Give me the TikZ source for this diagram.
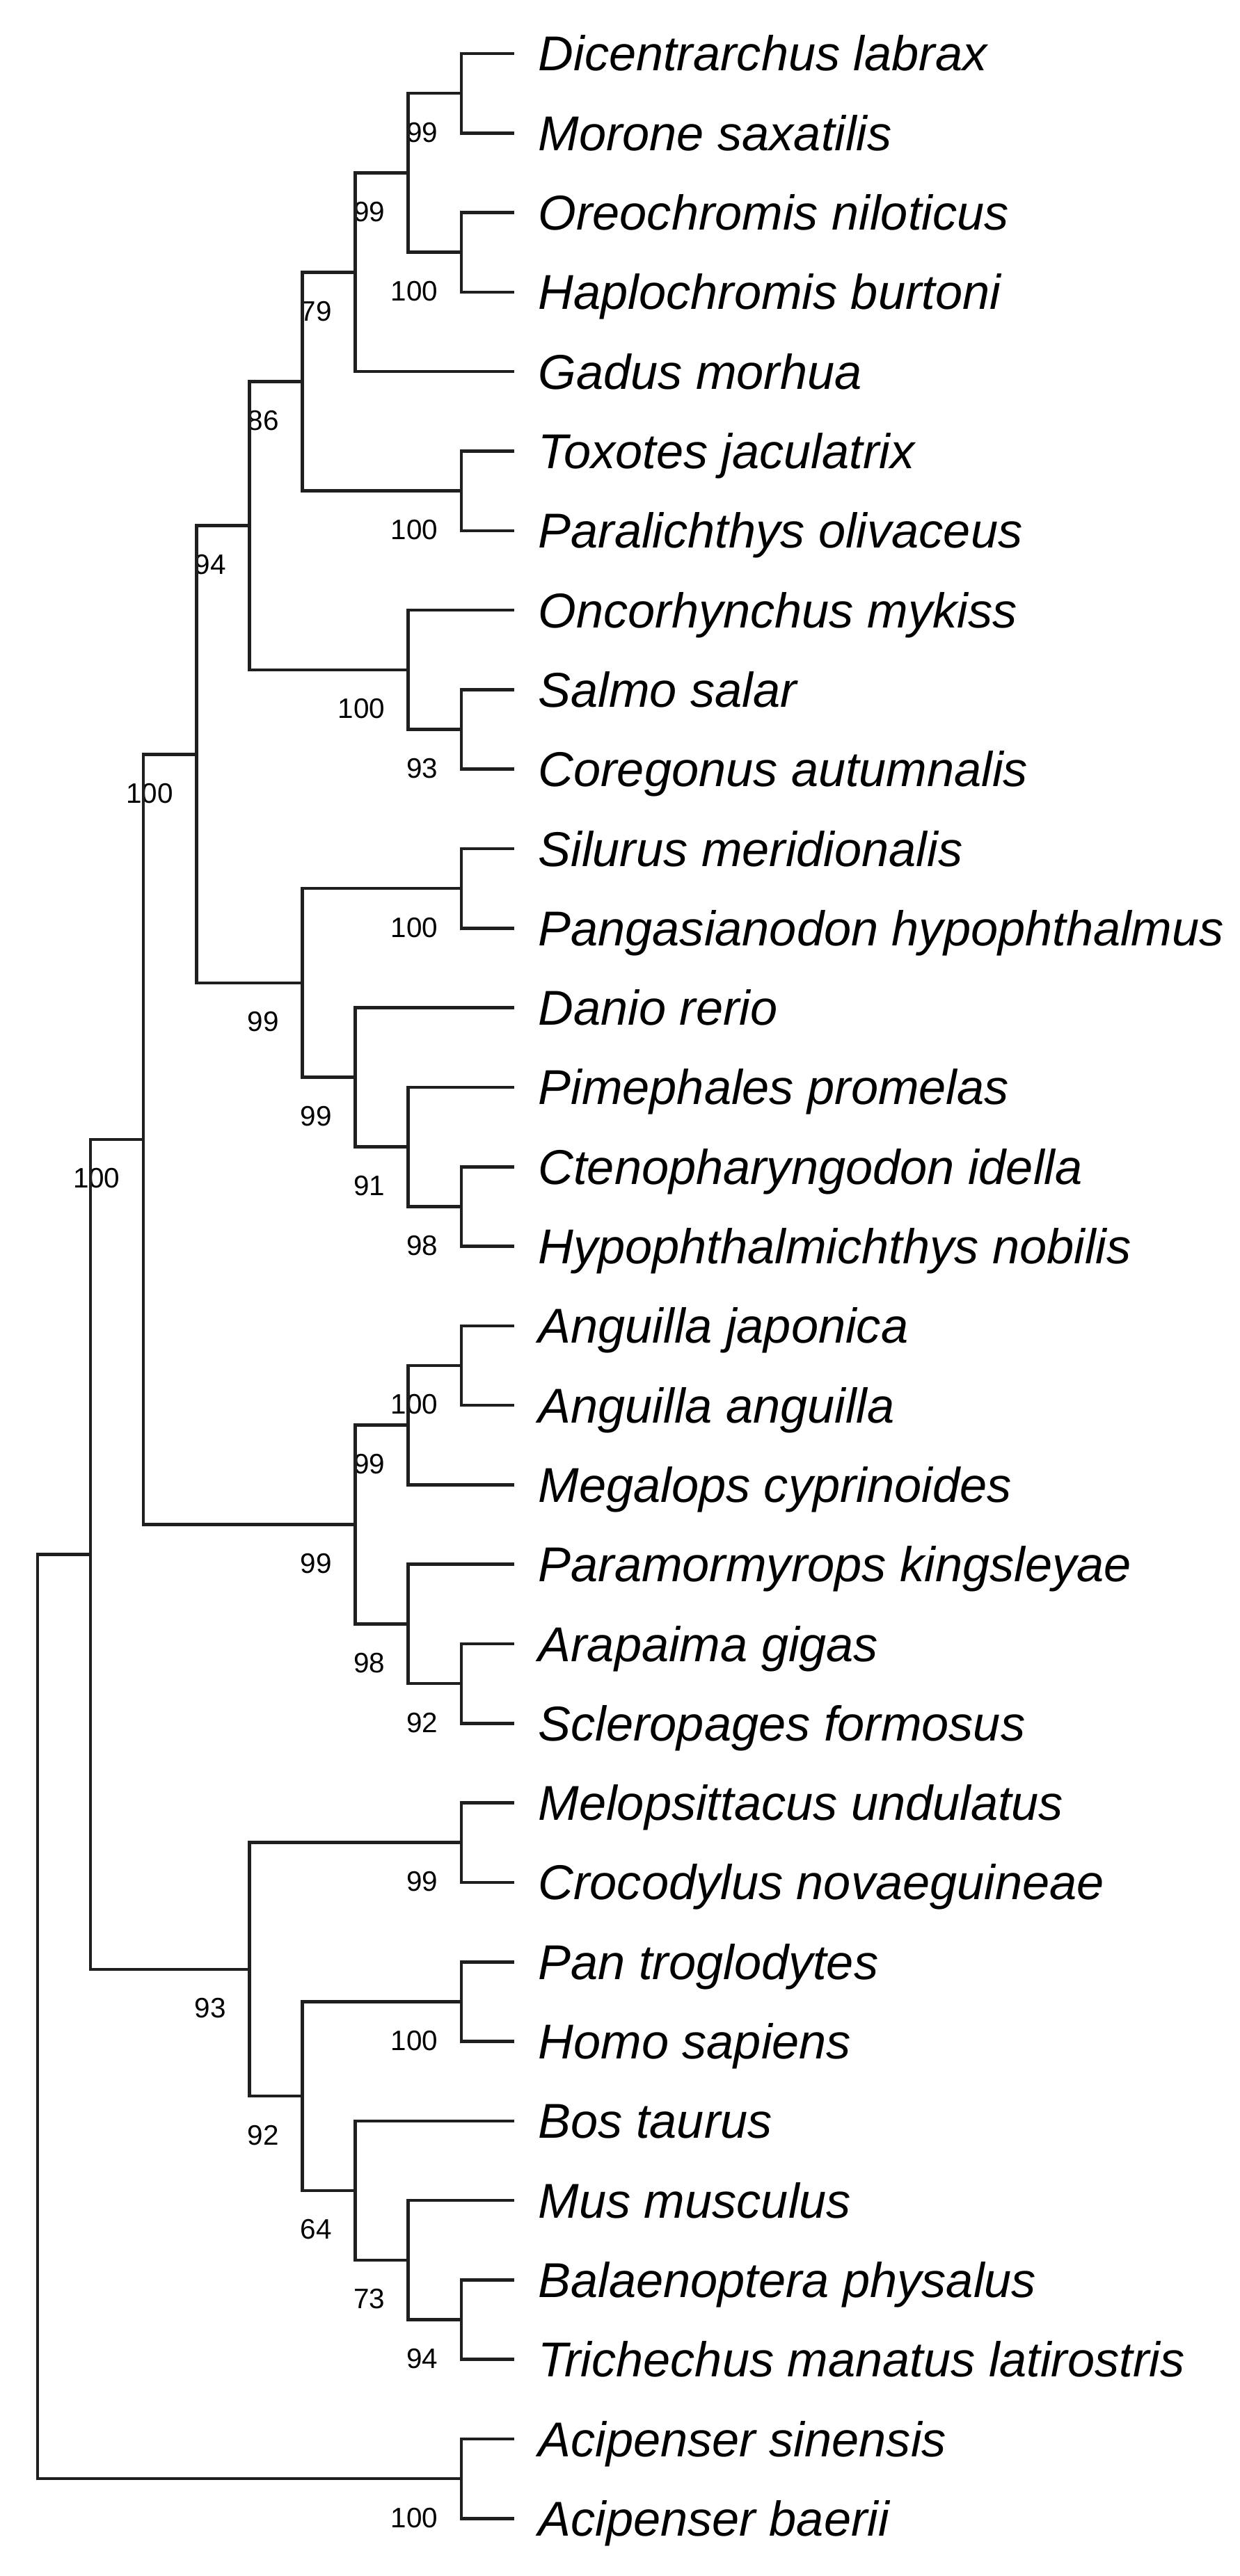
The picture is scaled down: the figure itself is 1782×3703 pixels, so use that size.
\documentclass[tikz,border=0pt]{standalone}
\usepackage{fontspec}
\setmainfont{Liberation Sans}
\usetikzlibrary{calc}

\tikzset{
	branch/.style={line width=1.3pt, draw=black!88},
	taxon/.style={anchor=base west, inner sep=0pt, font=\fontsize{20}{24}\selectfont\itshape},
	boot/.style={anchor=east, inner sep=0pt, font=\fontsize{11.5}{13}\selectfont}
}

% internal node: name, level, leaf position, bootstrap value
\newcommand\clade[4]{%
	\coordinate (#1) at ({\lx+\dx*#2},{\ly+\dy*#3});
	\node[boot] (b#1) at ($(#1)+(-33,56)$) {#4};}

\begin{document}
\begin{tikzpicture}[x=0.01cm, y=-0.01cm]
	\def\lx{54} % x of level 0
	\def\dx{76.1} % level step
	\def\ly{77} % y of first leaf
	\def\dy{114.3} % leaf step
	\useasboundingbox (0,0) rectangle (1782,3703);
	
	% leaves
	\foreach \name [count=\i from 0] in {Dicentrarchus labrax, Morone saxatilis,
		Oreochromis niloticus, Haplochromis burtoni, Gadus morhua,
		Toxotes jaculatrix, Paralichthys olivaceus, Oncorhynchus mykiss,
		Salmo salar, Coregonus autumnalis, Silurus meridionalis,
		Pangasianodon hypophthalmus, Danio rerio, Pimephales promelas,
		Ctenopharyngodon idella, Hypophthalmichthys nobilis, Anguilla japonica,
		Anguilla anguilla, Megalops cyprinoides, Paramormyrops kingsleyae,
		Arapaima gigas, Scleropages formosus, Melopsittacus undulatus,
		Crocodylus novaeguineae, Pan troglodytes, Homo sapiens, Bos taurus,
		Mus musculus, Balaenoptera physalus, Trichechus manatus latirostris,
		Acipenser sinensis, Acipenser baerii}
	{
		\coordinate (l\i) at ({\lx+\dx*9},{\ly+\dy*\i});
		\node[taxon] (t\i) at ($(l\i)+(34,25)$) {\name};
	}
	
	% fish clades
	\clade{perch}{8}{0.5}{99}
	\clade{cichl}{8}{2.5}{100}
	\clade{percA}{7}{1.5}{99}
	\clade{percB}{6}{2.75}{79}
	\clade{flat}{8}{5.5}{100}
	\clade{percC}{5}{4.125}{86}
	\clade{salm}{8}{8.5}{93}
	\clade{salmA}{7}{7.75}{100}
	\clade{eute}{4}{5.9375}{94}
	\clade{cat}{8}{10.5}{100}
	\clade{carp}{8}{14.5}{98}
	\clade{carpA}{7}{13.75}{91}
	\clade{carpB}{6}{12.875}{99}
	\clade{otop}{5}{11.6875}{99}
	\clade{tele}{3}{8.8125}{100}
	\clade{eel}{8}{16.5}{100}
	\clade{eelA}{7}{17.25}{99}
	\clade{bony}{8}{20.5}{92}
	\clade{bonyA}{7}{19.75}{98}
	\clade{basal}{6}{18.5}{99}
	\clade{fish}{2}{13.65625}{100}
	
	% tetrapod clades
	\clade{sauro}{8}{22.5}{99}
	\clade{homin}{8}{24.5}{100}
	\clade{whale}{8}{28.5}{94}
	\clade{mamA}{7}{27.75}{73}
	\clade{mamB}{6}{26.875}{64}
	\clade{mamm}{5}{25.6875}{92}
	\clade{tetra}{4}{24.09375}{93}
	\clade{acip}{8}{30.5}{100}
	
	% unlabelled nodes
	\coordinate (oste) at ({\lx+\dx*1},{\ly+\dy*18.875});
	\coordinate (root) at ({\lx},{\ly+\dy*24.6875});
	
	% branches
	\foreach \p/\c in {perch/l0, perch/l1, cichl/l2, cichl/l3, percA/perch,
		percA/cichl, percB/percA, percB/l4, flat/l5, flat/l6, percC/percB,
		percC/flat, salm/l8, salm/l9, salmA/l7, salmA/salm, eute/percC,
		eute/salmA, cat/l10, cat/l11, carp/l14, carp/l15, carpA/l13,
		carpA/carp, carpB/l12, carpB/carpA, otop/cat, otop/carpB, tele/eute,
		tele/otop, eel/l16, eel/l17, eelA/eel, eelA/l18, bony/l20, bony/l21,
		bonyA/l19, bonyA/bony, basal/eelA, basal/bonyA, fish/tele, fish/basal,
		sauro/l22, sauro/l23, homin/l24, homin/l25, whale/l28, whale/l29,
		mamA/l27, mamA/whale, mamB/l26, mamB/mamA, mamm/homin, mamm/mamB,
		tetra/sauro, tetra/mamm, oste/fish, oste/tetra, acip/l30, acip/l31,
		root/oste, root/acip}
		\draw[branch] (\p) |- (\c);
\end{tikzpicture}
\end{document}
